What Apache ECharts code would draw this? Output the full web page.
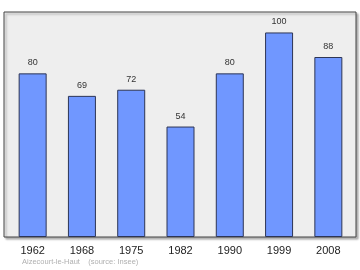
<!DOCTYPE html>
<html><head><meta charset="utf-8">
<script src="https://cdn.jsdelivr.net/npm/echarts@6/dist/echarts.min.js"></script>
<style>html,body{margin:0;padding:0;background:#fff}#c{width:360px;height:270px}</style>
</head><body><div id="c"></div>
<script>
const categories = ['1962','1968','1975','1982','1990','1999','2008'];
const population = [80, 69, 72, 54, 80, 100, 88];
const sourceText = 'Aizecourt-le-Haut    (source: Insee)';

const chart = echarts.init(document.getElementById('c'), null, {renderer:'canvas'});
chart.setOption({
  animation: false,
  backgroundColor: '#fff',
  grid: {left: 8, right: 7, top: 12, bottom: 33},
  graphic: [
    {type:'rect', z:-10, shape:{x:4, y:12, width:352, height:225},
     style:{fill:'#eeeeee', stroke:'#444', lineWidth:1,
            shadowColor:'rgba(0,0,0,0.3)', shadowOffsetX:2, shadowOffsetY:2, shadowBlur:2}},
    {type:'text', left: 22, top: 258,
     style:{text: sourceText, fill:'#b0b0b0', fontSize: 7.5, fontFamily:'Liberation Sans'}}
  ],
  xAxis: {
    type:'category', data: categories,
    axisLine:{show:false}, axisTick:{show:false},
    axisLabel:{color:'#222', fontSize:11, margin:8, fontFamily:'Liberation Sans'}
  },
  yAxis: {type:'value', min:0, max:110, show:false, splitLine:{show:false}},
  series: [{
    type:'bar', data: population, barWidth: 28,
    itemStyle:{color:'#7097ff', borderColor:'#2d3555', borderWidth:1},
    label:{show:true, position:'top', distance:6, color:'#333', fontSize:9, fontFamily:'Liberation Sans'}
  }]
});
</script></body></html>
